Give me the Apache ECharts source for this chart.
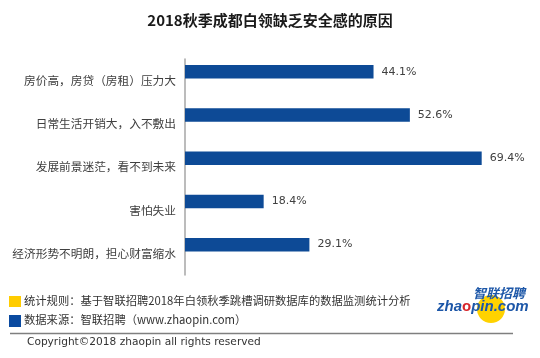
<!DOCTYPE html>
<html>
<head>
<meta charset="utf-8">
<script src="https://cdn.jsdelivr.net/npm/echarts@6/dist/echarts.min.js"></script>
<style>html,body{margin:0;padding:0;background:#fff}#c{width:540px;height:358px}</style>
</head>
<body>
<div id="c"></div>
<script>
const titleText = '2018秋季成都白领缺乏安全感的原因';
const categories = ['房价高，房贷（房租）压力大', '日常生活开销大，入不敷出', '发展前景迷茫，看不到未来', '害怕失业', '经济形势不明朗，担心财富缩水'];
const values = [44.1, 52.6, 69.4, 18.4, 29.1];
const placeholder = [null, null, null, null, null];
const noteRule = '统计规则：基于智联招聘2018年白领秋季跳槽调研数据库的数据监测统计分析';
const noteSource = '数据来源：智联招聘（www.zhaopin.com）';
const copyright = 'Copyright©2018 zhaopin all rights reserved';

const CJK = '"Noto Sans CJK SC", "Noto Sans", sans-serif';
const LAT = '"DejaVu Sans", Verdana, sans-serif';
const chart = echarts.init(document.getElementById('c'));
chart.setOption({
  animation: false,
  backgroundColor: '#fff',
  title: {
    text: titleText, left: 'center', top: 8,
    textStyle: { fontFamily: CJK, fontSize: 15, fontWeight: 'bold', color: '#1a1a1a' }
  },
  grid: { left: 185, top: 59, width: 342, height: 216 },
  xAxis: {
    type: 'value', min: 0, max: 80, show: false
  },
  yAxis: {
    type: 'category', data: categories, inverse: true,
    axisLine: { lineStyle: { color: '#a6a6a6', width: 1.5 } },
    axisTick: { show: false },
    axisLabel: { color: '#404040', fontFamily: CJK, fontSize: 11.7, margin: 9 }
  },
  series: [
    {
      type: 'bar', data: values, barWidth: 13.5, barGap: '30%',
      itemStyle: { color: '#0d4a96' },
      label: {
        show: true, position: 'right', distance: 8, formatter: '{c}%',
        color: '#404040', fontFamily: LAT, fontSize: 11
      }
    },
    { type: 'bar', data: placeholder, barWidth: 13.5, itemStyle: { color: '#0d4a96' } }
  ],
  graphic: [
    { type: 'rect', shape: { x: 9, y: 296, width: 12, height: 11 }, style: { fill: '#ffcc00' } },
    { type: 'rect', shape: { x: 9, y: 315, width: 12, height: 12 }, style: { fill: '#0a4aa0' } },
    { type: 'text', x: 24, y: 301, style: { text: noteRule, fontFamily: CJK, fontSize: 11.3, fill: '#333', verticalAlign: 'middle' } },
    { type: 'text', x: 24, y: 320, style: { text: noteSource, fontFamily: CJK, fontSize: 11.3, fill: '#333', verticalAlign: 'middle' } },
    { type: 'line', shape: { x1: 10, y1: 333.5, x2: 513, y2: 333.5 }, style: { stroke: '#7f7f7f', lineWidth: 1.5 } },
    { type: 'text', x: 27, y: 342, style: { text: copyright, fontFamily: LAT, fontSize: 10.6, fill: '#333', verticalAlign: 'middle' } },
    { type: 'circle', z: 1, shape: { cx: 491, cy: 309, r: 14 }, style: { fill: '#ffd200' } },
    { type: 'text', z: 5, x: 473, y: 293, style: { text: '智联招聘', fontFamily: CJK, fontSize: 13, fontWeight: 'bold', fontStyle: 'italic', fill: '#1d57a8', verticalAlign: 'middle' } },
    { type: 'text', z: 5, x: 437, y: 307, style: {
        text: '{a|zha}{b|o}{a|pin.com}', verticalAlign: 'middle',
        rich: {
          a: { fontFamily: '"Liberation Sans", Arial, sans-serif', fontSize: 15, fontWeight: 'bold', fontStyle: 'italic', fill: '#1d57a8' },
          b: { fontFamily: '"Liberation Sans", Arial, sans-serif', fontSize: 15, fontWeight: 'bold', fill: '#d8262b' }
        } } }
  ]
});
</script>
</body>
</html>
